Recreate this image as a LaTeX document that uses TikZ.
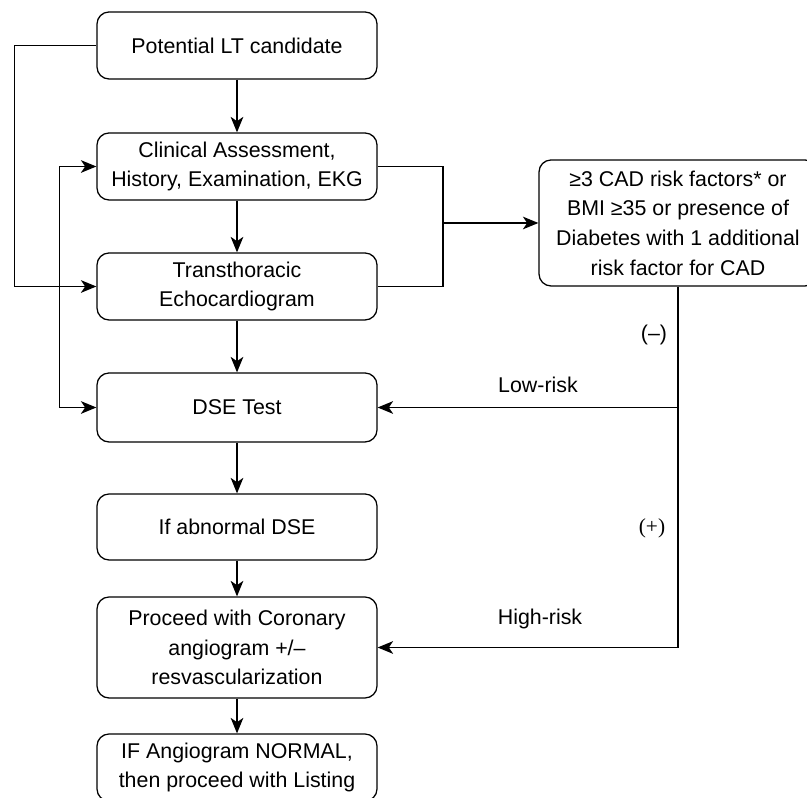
\documentclass[tikz,border=0pt]{standalone}
\usepackage{fontspec}
\setmainfont{Liberation Sans}
\newfontfamily\plusfont{Liberation Serif}
\usetikzlibrary{arrows.meta}
\begin{document}
\begin{tikzpicture}[line width=0.9pt,
  stepbox/.style={draw,rounded corners=0.3cm,align=center,minimum width=7cm,minimum height=1.675cm,inner sep=2pt},
  flow/.style={-{Stealth[length=11pt,width=9pt,inset=3pt]}},
  twoway/.style={{Stealth[length=11pt,width=9pt,inset=3pt]}-{Stealth[length=11pt,width=9pt,inset=3pt]}},
  font=\fontsize{15.2}{21.1}\selectfont]
\useasboundingbox (0,0) rectangle (20.175,19.95);
\node[stepbox] (cand) at (5.925,18.8125) {Potential LT candidate};
\node[stepbox] (clin) at (5.925,15.7875) {Clinical Assessment,\\History, Examination, EKG};
\node[stepbox] (echo) at (5.925,12.7875) {Transthoracic\\Echocardiogram};
\node[stepbox,minimum height=1.725cm] (dse) at (5.925,9.7625) {DSE Test};
\node[stepbox,minimum height=1.65cm] (abn) at (5.925,6.775) {If abnormal DSE};
\node[stepbox,minimum height=2.525cm] (proc) at (5.925,3.7625) {Proceed with Coronary\\angiogram +/\textendash\\resvascularization};
\node[stepbox] (list) at (5.925,0.7625) {IF Angiogram NORMAL,\\then proceed with Listing};
\node[stepbox,minimum width=6.95cm,minimum height=3.15cm] (risk) at (16.95,14.375) {≥3 CAD risk factors* or\\BMI ≥35 or presence of\\Diabetes with 1 additional\\risk factor for CAD};
\coordinate (brk) at (11.075,14.375);
% main column
\draw[flow] (cand) -- (clin);
\draw[flow] (clin) -- (echo);
\draw[flow] (echo) -- (dse);
\draw[flow] (dse) -- (abn);
\draw[flow] (abn) -- (proc);
\draw[flow] (proc) -- (list);
% left loops
\draw[flow] (cand.west) -- ++(-2.05,0) |- (echo.west);
\draw[twoway] (clin.west) -- ++(-0.925,0) |- (dse.west);
% risk branch
\draw (clin.east) -| (brk) |- (echo.east);
\draw[flow] (brk) -- (risk.west);
\draw[flow] (risk.south) |- (proc.east);
\draw[flow] (risk.south |- dse.east) -- (dse.east);
\node (neg) at (16.35,11.575) {(\textendash)};
\node (low) at (13.45,10.325) {Low-risk};
\node[font=\fontsize{15.2}{21.1}\plusfont] (pos) at (16.3,6.75) {(+)};
\node (high) at (13.5,4.475) {High-risk};
\end{tikzpicture}
\end{document}
